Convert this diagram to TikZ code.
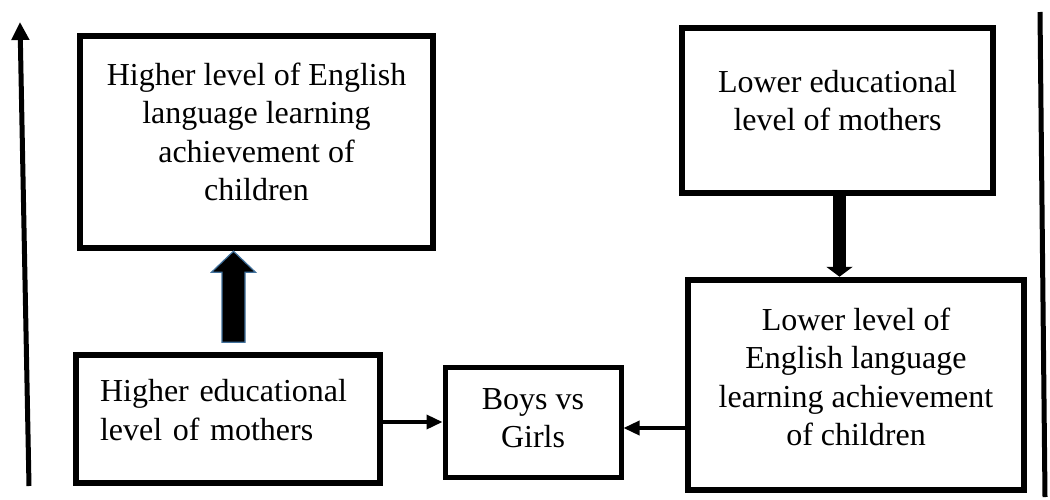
\documentclass[tikz,border=0pt]{standalone}
\usepackage{fontspec}
\setmainfont{Liberation Serif}
\usetikzlibrary{arrows.meta,calc}
\definecolor{arrowrim}{HTML}{41719C}

\begin{document}
\begin{tikzpicture}[x=1pt,y=-1pt,line cap=butt,line join=miter,
    box/.style={draw,line width=6.5pt,inner sep=0pt},
    boxtext/.style={align=center,inner sep=0pt,
      font=\fontsize{32pt}{38.5pt}\selectfont},
    link/.style={line width=3.5pt,-{Triangle[width=14pt,length=16pt]}},
    side/.style={line width=5pt}]
  \useasboundingbox (0,0) rectangle (1050,499);

  % The five boxes, each with its text raised a little.
  \node[box,minimum width=353pt,minimum height=212pt] (tl) at (256.5,142)
    [label={[boxtext,name=tltext,yshift=10pt]center:Higher level of English\\language learning\\achievement of\\children}] {};
  \node[box,minimum width=311pt,minimum height=165pt] (tr) at (837.5,110.5)
    [label={[boxtext,name=trtext,yshift=10pt]center:Lower educational\\level of mothers}] {};
  \node[box,minimum width=304pt,minimum height=128pt] (bl) at (228,419)
    [label={[boxtext,name=bltext,yshift=9pt,text width=256pt,align=left]center:Higher educational\\level of mothers}] {};
  \node[box,line width=5pt,minimum width=176pt,minimum height=110pt] (boys) at (533,422)
    [label={[boxtext,name=boystext,yshift=4pt]center:Boys vs\\Girls}] {};
  \node[box,minimum width=336pt,minimum height=210pt] (br) at (856,385)
    [label={[boxtext,name=brtext,yshift=8pt]center:Lower level of\\English language\\learning achievement\\of children}] {};

  % The two block arrows between the upper and lower boxes.
  \coordinate (uptip) at ([xshift=-23pt]tl.south);
  \filldraw[fill=black,draw=arrowrim,line width=1.2pt] (uptip) -- ++(22,21)
    -- ++(-10.5,0) -- ++(0,70) -- ++(-23,0) -- ++(0,-70) -- ++(-10.5,0) -- cycle;
  \draw[line width=13pt,-{Triangle[width=26pt,length=10pt]}]
    ([xshift=2pt]tr.south) -- ([xshift=2pt]tr.south |- br.north);

  % The two links into the middle box.
  \draw[link] (bl.east |- boys.west) -- (boys.west);
  \draw[link] ([yshift=-6pt]br.west |- boys.east) -- ([yshift=-6pt]boys.east);

  % The two lines down the sides.
  \coordinate (leftfoot) at (29,486);
  \coordinate (lefttop) at (20,22);
  \draw[side,-{Triangle[width=17pt,length=18pt]}] (leftfoot) -- (lefttop);
  \coordinate (righttop) at (1040,12);
  \coordinate (rightfoot) at (1045,497);
  \draw[side] (righttop) -- (rightfoot);
\end{tikzpicture}
\end{document}
